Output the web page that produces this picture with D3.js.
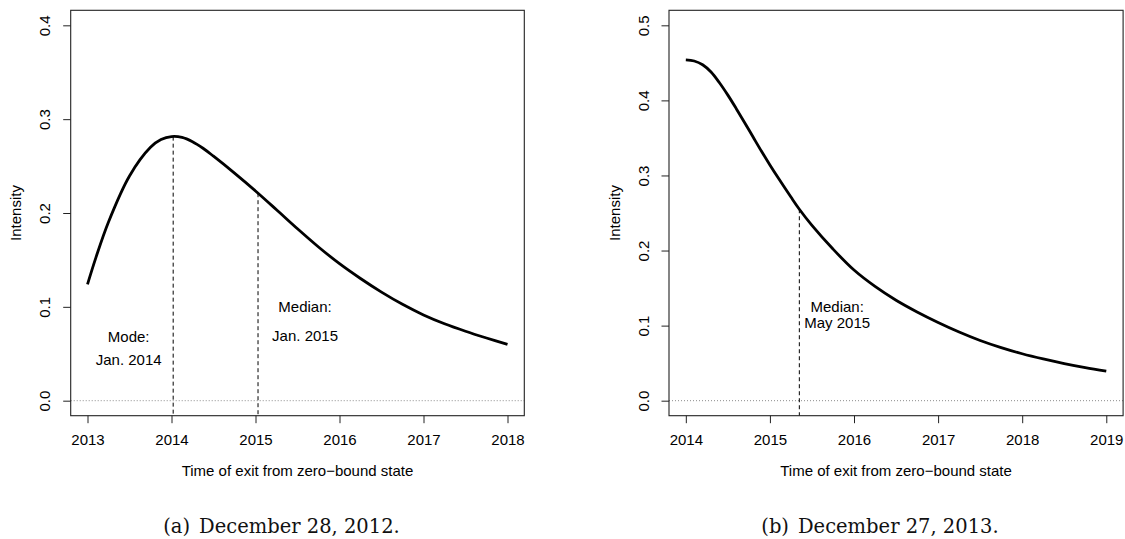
<!DOCTYPE html>
<html>
<head>
<meta charset="utf-8">
<script src="https://cdn.jsdelivr.net/npm/d3@7"></script>
<style>
  html, body { margin: 0; padding: 0; background: #fff; }
  svg { display: block; }
</style>
</head>
<body>
<svg id="chart" width="1125" height="539"></svg>
<script>
// ---------- data ----------
const leftYears = [2013.00, 2013.10, 2013.25, 2013.50, 2013.75, 2013.875, 2014.00, 2014.125, 2014.25,
                   2014.375, 2014.50, 2014.75, 2015.00, 2015.25, 2015.50, 2015.75, 2016.00,
                   2016.25, 2016.50, 2016.75, 2017.00, 2017.25, 2017.50, 2017.75, 2018.00];
const leftIntensity = [0.1240, 0.1525, 0.1905, 0.2395, 0.2700, 0.2782, 0.2815, 0.2806, 0.2760,
                       0.2690, 0.2605, 0.2425, 0.2235, 0.2035, 0.1832, 0.1638, 0.1460,
                       0.1302, 0.1157, 0.1027, 0.0914, 0.0820, 0.0740, 0.0668, 0.0600];
const rightYears = [2014.00, 2014.10, 2014.20, 2014.30, 2014.40, 2014.50, 2014.60, 2014.70, 2014.80,
                    2014.90, 2015.00, 2015.10, 2015.25, 2015.35, 2015.50, 2015.75, 2016.00,
                    2016.25, 2016.50, 2016.75, 2017.00, 2017.25, 2017.50, 2017.75, 2018.00,
                    2018.25, 2018.50, 2018.75, 2019.00];
const rightIntensity = [0.4540, 0.4525, 0.4475, 0.4378, 0.4235, 0.4070, 0.3890, 0.3703, 0.3512,
                        0.3322, 0.3140, 0.2965, 0.2712, 0.2550, 0.2335, 0.2020, 0.1740,
                        0.1522, 0.1338, 0.1182, 0.1042, 0.0915, 0.0802, 0.0707, 0.0625,
                        0.0556, 0.0495, 0.0441, 0.0393];

const leftXTicks = [2013, 2014, 2015, 2016, 2017, 2018];
const rightXTicks = [2014, 2015, 2016, 2017, 2018, 2019];
const leftYTicks = [0.0, 0.1, 0.2, 0.3, 0.4];
const rightYTicks = [0.0, 0.1, 0.2, 0.3, 0.4, 0.5];

// vertical reference lines (year of mode / median)
const leftMarkers = [2014.02, 2015.03];
const rightMarkers = [2015.35];

// annotations: [text, year, intensity]
const leftNotes = [["Mode:", 2013.49, 0.0686], ["Jan. 2014", 2013.49, 0.0438],
                   ["Median:", 2015.59, 0.0998], ["Jan. 2015", 2015.59, 0.0697]];
const rightNotes = [["Median:", 2015.80, 0.1257], ["May 2015", 2015.80, 0.1044]];

const xTitle = "Time of exit from zero\u2212bound state";
const yTitle = "Intensity";
const captions = [["(a)", "December 28, 2012."], ["(b)", "December 27, 2013."]];

// ---------- drawing ----------
const svg = d3.select("#chart");
const sans = "'Liberation Sans', Arial, Helvetica, sans-serif";

function interp(years, vals, t) {
  const i = Math.max(1, Math.min(years.length - 1, d3.bisectLeft(years, t)));
  const f = (t - years[i - 1]) / (years[i] - years[i - 1]);
  return vals[i - 1] + f * (vals[i] - vals[i - 1]);
}

function panel(cfg) {
  const g = svg.append("g");
  const x = d3.scaleLinear().domain(cfg.xDomain).range([cfg.left, cfg.right]);
  const y = d3.scaleLinear().domain(cfg.yDomain).range([cfg.bottom, cfg.top]);

  // zero dotted line
  g.append("line")
    .attr("x1", cfg.left).attr("x2", cfg.right)
    .attr("y1", y(0)).attr("y2", y(0))
    .attr("stroke", "#8c8c8c").attr("stroke-width", 1)
    .attr("stroke-dasharray", "1,2");

  // dashed markers from the curve down to the bottom of the plot region
  g.selectAll("line.mk").data(cfg.markers).enter().append("line")
    .attr("class", "mk")
    .attr("x1", d => x(d)).attr("x2", d => x(d))
    .attr("y1", d => y(interp(cfg.years, cfg.vals, d))).attr("y2", y(cfg.yDomain[0]))
    .attr("stroke", "#000").attr("stroke-width", 1)
    .attr("stroke-dasharray", "4,3");

  // curve
  const pts = cfg.years.map((yr, i) => [yr, cfg.vals[i]]);
  g.append("path")
    .datum(pts)
    .attr("d", d3.line().x(d => x(d[0])).y(d => y(d[1])).curve(d3.curveCatmullRom.alpha(0.5)))
    .attr("fill", "none").attr("stroke", "#000").attr("stroke-width", 2.8)
    .attr("stroke-linecap", "butt");

  // box
  g.append("rect")
    .attr("x", cfg.left).attr("y", cfg.top)
    .attr("width", cfg.right - cfg.left).attr("height", cfg.bottom - cfg.top)
    .attr("fill", "none").attr("stroke", "#222").attr("stroke-width", 1.1);

  // x axis
  const xa = g.append("g").attr("transform", `translate(0,${cfg.bottom})`)
    .call(d3.axisBottom(x).tickValues(cfg.xTicks).tickFormat(d3.format("d")).tickSize(7.5).tickPadding(5));
  xa.select(".domain").remove();
  xa.selectAll(".tick line").attr("stroke", "#222");
  xa.selectAll(".tick text").attr("font-family", sans).attr("font-size", 15).attr("fill", "#000")
    .attr("dy", null).attr("y", 29.5);

  // y axis
  const ya = g.append("g").attr("transform", `translate(${cfg.left},0)`)
    .call(d3.axisLeft(y).tickValues(cfg.yTicks).tickFormat(d3.format(".1f")).tickSize(7.5));
  ya.select(".domain").remove();
  ya.selectAll(".tick line").attr("stroke", "#222");
  ya.selectAll(".tick text").remove();
  ya.selectAll(".tick").append("text")
    .attr("transform", "translate(-20.5,0) rotate(-90)")
    .attr("text-anchor", "middle")
    .attr("font-family", sans).attr("font-size", 15).attr("fill", "#000")
    .text(d => d3.format(".1f")(d));

  // titles
  g.append("text")
    .attr("x", (cfg.left + cfg.right) / 2).attr("y", 476)
    .attr("text-anchor", "middle").attr("font-family", sans).attr("font-size", 15).attr("fill", "#000")
    .text(xTitle);
  g.append("text")
    .attr("transform", `translate(${cfg.left - 49.5},${(cfg.top + cfg.bottom) / 2}) rotate(-90)`)
    .attr("text-anchor", "middle").attr("font-family", sans).attr("font-size", 15).attr("fill", "#000")
    .text(yTitle);

  // annotations
  g.selectAll("text.note").data(cfg.notes).enter().append("text")
    .attr("class", "note")
    .attr("x", d => x(d[1])).attr("y", d => y(d[2]) + 5.4)
    .attr("text-anchor", "middle").attr("font-family", sans).attr("font-size", 15).attr("fill", "#000")
    .text(d => d[0]);

  // caption
  const cap = g.append("text")
    .attr("x", cfg.capX).attr("y", 533)
    .attr("text-anchor", "middle")
    .attr("font-family", "'DejaVu Serif', 'Liberation Serif', serif")
    .attr("font-size", 19.5).attr("fill", "#111");
  cap.append("tspan").text(cfg.caption[0]);
  cap.append("tspan").attr("dx", 9).text(cfg.caption[1]);
}

panel({
  xDomain: [2012.8, 2018.2], yDomain: [-0.016, 0.416],
  left: 70.7, right: 524.3, top: 10.3, bottom: 415.7,
  years: leftYears, vals: leftIntensity,
  xTicks: leftXTicks, yTicks: leftYTicks,
  markers: leftMarkers, notes: leftNotes,
  caption: captions[0], capX: 281.5
});
panel({
  xDomain: [2013.8, 2019.2], yDomain: [-0.02, 0.52],
  left: 669, right: 1123.1, top: 10.3, bottom: 415.7,
  years: rightYears, vals: rightIntensity,
  xTicks: rightXTicks, yTicks: rightYTicks,
  markers: rightMarkers, notes: rightNotes,
  caption: captions[1], capX: 880
});
</script>
</body>
</html>
